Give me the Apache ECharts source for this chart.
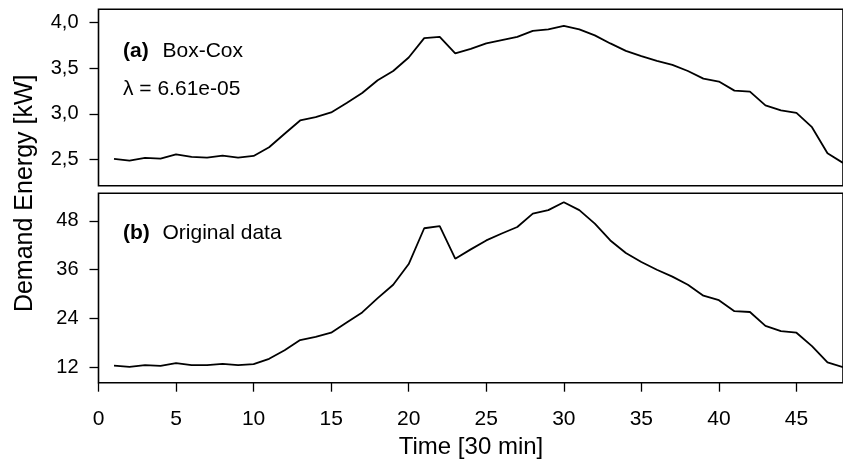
<!DOCTYPE html>
<html>
<head>
<meta charset="utf-8">
<script src="https://cdn.jsdelivr.net/npm/echarts@6/dist/echarts.min.js"></script>
<style>html,body{margin:0;padding:0;background:#fff}#c{width:843px;height:464px}</style>
</head>
<body>
<div id="c"></div>
<script>
var timeSlots = [1,2,3,4,5,6,7,8,9,10,11,12,13,14,15,16,17,18,19,20,21,22,23,24,25,26,27,28,29,30,31,32,33,34,35,36,37,38,39,40,41,42,43,44,45,46,47,48];
var boxCox = [2.508,2.489,2.519,2.511,2.558,2.530,2.522,2.544,2.522,2.540,2.635,2.783,2.929,2.966,3.017,3.120,3.230,3.369,3.471,3.619,3.831,3.845,3.663,3.713,3.773,3.809,3.845,3.911,3.927,3.966,3.927,3.861,3.773,3.692,3.633,3.582,3.538,3.471,3.387,3.355,3.256,3.245,3.094,3.039,3.013,2.855,2.569,2.464];
var original = [12.42,12.1,12.5,12.35,13.0,12.5,12.5,12.84,12.5,12.75,14.08,16.2,18.7,19.5,20.5,23.0,25.5,29.0,32.3,37.4,46.2,46.7,38.7,41.0,43.2,44.9,46.5,49.8,50.65,52.6,50.65,47.35,43.2,40.1,37.9,36.0,34.3,32.3,29.6,28.5,25.8,25.6,22.2,20.9,20.5,17.2,13.2,12.0];
var xTicks = [0,5,10,15,20,25,30,35,40,45];
var topTicks = [2.5,3.0,3.5,4.0];
var bottomTicks = [12,24,36,48];

var FONT = 'Liberation Sans, Arial, sans-serif';
function pairs(xs, ys){ return xs.map(function(x,i){ return [x, ys[i]]; }); }

var chart = echarts.init(document.getElementById('c'), null, {renderer:'canvas'});
var gridCommon = {show:true, borderColor:'#000', borderWidth:1.6, backgroundColor:'transparent'};
chart.setOption({
  animation:false,
  grid:[
    Object.assign({left:98.5, top:9.3, width:744.5, height:176.4}, gridCommon),
    Object.assign({left:98.5, top:193.3, width:744.5, height:189.4}, gridCommon)
  ],
  xAxis:[
    {gridIndex:0, type:'value', min:0, max:48, axisLine:{show:false}, axisTick:{show:false}, axisLabel:{show:false}, splitLine:{show:false}},
    {gridIndex:1, type:'value', min:0, max:48, axisLine:{show:false},
     axisTick:{show:true, inside:false, length:9, lineStyle:{color:'#000', width:1.3}, customValues:xTicks},
     axisLabel:{show:true, margin:26, color:'#000', fontSize:21, fontFamily:FONT, customValues:xTicks},
     splitLine:{show:false}}
  ],
  yAxis:[
    {gridIndex:0, type:'value', min:2.214, max:4.147, axisLine:{show:false},
     axisTick:{show:true, inside:false, length:9, lineStyle:{color:'#000', width:1.3}, customValues:topTicks},
     axisLabel:{show:true, margin:20, color:'#000', fontSize:20, fontFamily:FONT, customValues:topTicks,
       formatter:function(v){ return v.toFixed(1).replace('.', ','); }},
     splitLine:{show:false}},
    {gridIndex:1, type:'value', min:8.2, max:54.8, axisLine:{show:false},
     axisTick:{show:true, inside:false, length:9, lineStyle:{color:'#000', width:1.3}, customValues:bottomTicks},
     axisLabel:{show:true, margin:20, color:'#000', fontSize:20, fontFamily:FONT, customValues:bottomTicks},
     splitLine:{show:false}}
  ],
  series:[
    {type:'line', xAxisIndex:0, yAxisIndex:0, data:pairs(timeSlots, boxCox), symbol:'none', lineStyle:{color:'#000', width:1.8}},
    {type:'line', xAxisIndex:1, yAxisIndex:1, data:pairs(timeSlots, original), symbol:'none', lineStyle:{color:'#000', width:1.8}}
  ],
  graphic:[
    {type:'text', left:123, top:41, style:{text:'(a)', font:'bold 21px '+FONT, fill:'#000'}},
    {type:'text', left:162.5, top:41, style:{text:'Box-Cox', font:'21px '+FONT, fill:'#000'}},
    {type:'text', left:123, top:79, style:{text:'λ = 6.61e-05', font:'21px '+FONT, fill:'#000'}},
    {type:'text', left:123, top:223, style:{text:'(b)', font:'bold 21px '+FONT, fill:'#000'}},
    {type:'text', left:162.5, top:223, style:{text:'Original data', font:'21px '+FONT, fill:'#000'}},
    {type:'text', x:471, y:447.6, style:{text:'Time [30 min]', font:'24px '+FONT, fill:'#000', align:'center', verticalAlign:'middle'}},
    {type:'text', x:25.3, y:193.3, rotation:Math.PI/2, style:{text:'Demand Energy [kW]', font:'25px '+FONT, fill:'#000', align:'center', verticalAlign:'middle'}}
  ]
});
</script>
</body>
</html>
